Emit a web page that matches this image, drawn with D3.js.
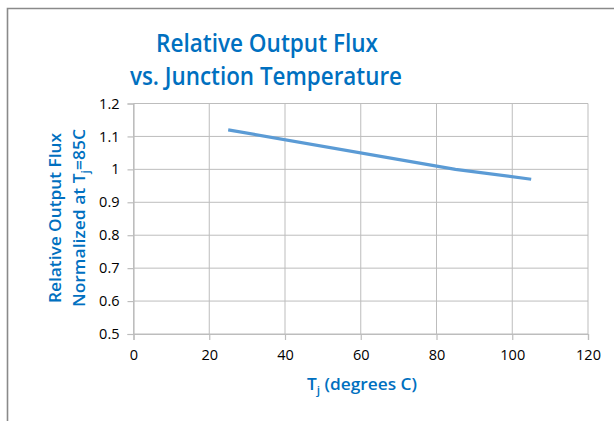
<!DOCTYPE html>
<html><head><meta charset="utf-8">
<script src="https://cdn.jsdelivr.net/npm/d3@7"></script>
<style>body{margin:0;background:#fff;}svg{display:block;}</style>
</head><body>
<script>
const tempC = [25, 85, 105];
const relFlux = [1.12, 1.0, 0.97];
const xTicks = [0, 20, 40, 60, 80, 100, 120];
const yTicks = [0.5, 0.6, 0.7, 0.8, 0.9, 1.0, 1.1, 1.2];
const titleLines = ["Relative Output Flux", "vs. Junction Temperature"];

const W = 614, H = 421;
const svg = d3.select("body").append("svg").attr("width", W).attr("height", H);
svg.append("rect").attr("width", W).attr("height", H).attr("fill", "#fff");
// frame
svg.append("path").attr("d", `M7.5,${H} V8.5 H${W}`).attr("fill", "none")
  .attr("stroke", "#8a8a8a").attr("stroke-width", 1.6);

const x = d3.scaleLinear().domain([0, 120]).range([133.5, 588]);
const y = d3.scaleLinear().domain([0.5, 1.2]).range([334, 103.5]);
const blue = "#0070C0";
const grid = "#bdbdbd";

// gridlines
svg.append("g").selectAll("line").data(yTicks).join("line")
  .attr("x1", x(0)).attr("x2", x(120)).attr("y1", d => y(d)).attr("y2", d => y(d))
  .attr("stroke", grid).attr("stroke-width", 1);
svg.append("g").selectAll("line").data(xTicks).join("line")
  .attr("x1", d => x(d)).attr("x2", d => x(d)).attr("y1", y(0.5)).attr("y2", y(1.2))
  .attr("stroke", grid).attr("stroke-width", 1);

const font = "'Open Sans', 'Noto Sans', sans-serif";
const yAxis = d3.axisLeft(y).tickValues(yTicks).tickSize(6).tickPadding(8)
  .tickFormat(d => d === 1 ? "1" : d3.format(".1f")(d));
const gy = svg.append("g").attr("transform", `translate(${x(0)},0)`).call(yAxis);
const xAxis = d3.axisBottom(x).tickValues(xTicks).tickSize(6).tickPadding(8);
const gx = svg.append("g").attr("transform", `translate(0,${y(0.5)})`).call(xAxis);
[gx, gy].forEach(g => {
  g.select(".domain").attr("stroke", grid).attr("stroke-width", 1.2);
  g.selectAll(".tick line").attr("stroke", grid).attr("stroke-width", 1.2);
  g.selectAll(".tick text").attr("fill", "#000").style("font-family", font).style("font-size", "14.5px");
});
gx.selectAll(".tick text").attr("dy", "0.85em");

// line
const pts = tempC.map((t, i) => [t, relFlux[i]]);
svg.append("path").datum(pts)
  .attr("d", d3.line().x(d => x(d[0])).y(d => y(d[1])))
  .attr("fill", "none").attr("stroke", "#5B9BD5").attr("stroke-width", 3.2)
  .attr("stroke-linejoin", "round");

// title
const title = svg.append("g").attr("fill", blue).style("font-family", font)
  .style("font-weight", "600").style("font-size", "26px").attr("text-anchor", "middle");
title.append("text").attr("x", 267).attr("y", 52).attr("textLength", 222)
  .attr("lengthAdjust", "spacingAndGlyphs").text(titleLines[0]);
title.append("text").attr("x", 266).attr("y", 85).attr("textLength", 272)
  .attr("lengthAdjust", "spacingAndGlyphs").text(titleLines[1]);

// x axis title
const xt = svg.append("text").attr("x", 362).attr("y", 390).attr("text-anchor", "middle")
  .attr("fill", blue).style("font-family", font).style("font-weight", "600").style("font-size", "16px")
  .attr("textLength", 110).attr("lengthAdjust", "spacingAndGlyphs");
xt.append("tspan").text("T");
xt.append("tspan").attr("dy", 4).style("font-size", "11px").text("j");
xt.append("tspan").attr("dy", -4).text(" (degrees C)");

// y axis title
const yt = svg.append("g").attr("transform", "translate(0,218) rotate(-90)")
  .attr("fill", blue).style("font-family", font).style("font-weight", "600").style("font-size", "16px")
  .attr("text-anchor", "middle");
yt.append("text").attr("x", 0).attr("y", 61).attr("textLength", 170)
  .attr("lengthAdjust", "spacingAndGlyphs").text("Relative Output Flux");
const yt2 = yt.append("text").attr("x", 0).attr("y", 85).attr("textLength", 178)
  .attr("lengthAdjust", "spacingAndGlyphs");
yt2.append("tspan").text("Normalized at T");
yt2.append("tspan").attr("dy", 4).style("font-size", "11px").text("j");
yt2.append("tspan").attr("dy", -4).text("=85C");
</script>
</body></html>
